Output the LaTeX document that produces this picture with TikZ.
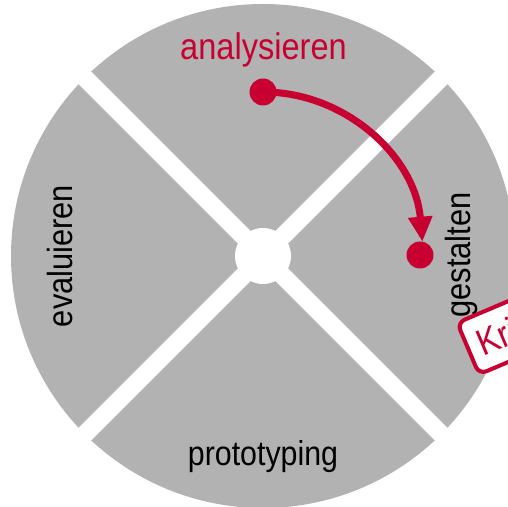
\documentclass[tikz,border=0pt]{standalone}
\usepackage{fontspec}
\setmainfont{Liberation Sans}[FakeStretch=0.88]
\usetikzlibrary{arrows.meta,calc}
\definecolor{wheelgrey}{RGB}{178,178,178}
\definecolor{cyclered}{RGB}{200,0,50}
\tikzset{
  phase/.style={font=\fontsize{35}{40}\selectfont, text=black, inner sep=0pt},
  dotmark/.style={circle, fill=cyclered, minimum size=27pt, inner sep=0pt},
  divider/.style={white, line width=18pt},
  flow/.style={cyclered, line width=7pt, -{Triangle[length=25pt,width=23pt]}},
  tagbox/.style={draw=cyclered, line width=4pt, fill=white, rounded corners=8pt,
    minimum height=56pt, text width=150pt, align=left, inner xsep=11pt,
    text=cyclered, font=\fontsize{37}{40}\selectfont}
}
\begin{document}
\begin{tikzpicture}[x=1pt,y=1pt]
  \useasboundingbox (0,0) rectangle (508,506);
  \clip (0,0) rectangle (508,506);
  \coordinate (C) at (263,250);
  % the wheel and its four quadrants
  \fill[wheelgrey] (C) circle (252);
  \draw[divider] ($(C)+(45:270)$) -- ($(C)+(225:270)$);
  \draw[divider] ($(C)+(135:270)$) -- ($(C)+(315:270)$);
  \node[circle, fill=white, minimum size=56pt, inner sep=0pt] (hub) at (C) {};
  % phase labels
  \node[phase, text=cyclered, font=\fontsize{37}{40}\selectfont, anchor=base] (ana) at (263.5,446) {analysieren};
  \node[phase, rotate=90, anchor=base] (eva) at (72,250) {evaluieren};
  \node[phase, rotate=90, anchor=base] (ges) at (470,251) {gestalten};
  \node[phase, font=\fontsize{34.5}{40}\selectfont, anchor=base] (pro) at (263,41) {prototyping};
  % transition from analysing to designing
  \node[dotmark] (from) at (263,414) {};
  \node[dotmark] (to) at (420,251) {};
  \draw[flow] (from.center) arc[start angle=90, end angle=5, x radius=160, y radius=164];
  % tag at the right rim
  \node[tagbox, rotate=23, anchor=south west] (tag) at (478,129) {Kri};
\end{tikzpicture}
\end{document}
